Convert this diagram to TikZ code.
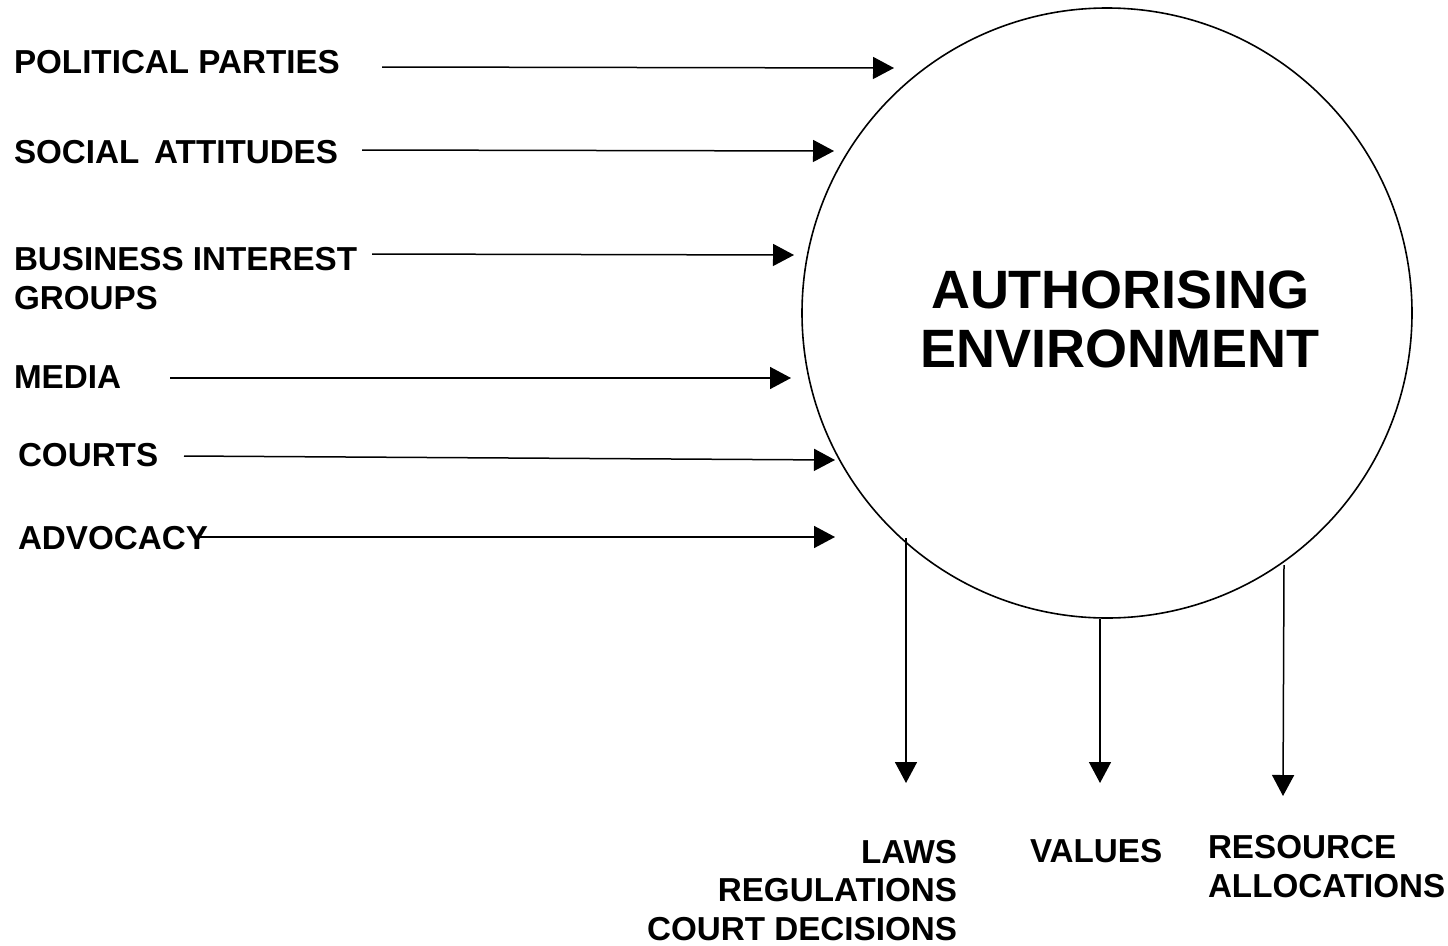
\documentclass[tikz,border=0pt]{standalone}
\usepackage{fontspec}
\setmainfont{Liberation Sans}
\usetikzlibrary{arrows.meta}
\begin{document}
\begin{tikzpicture}[x=1pt,y=-1pt,
  lbl/.style={font=\fontsize{33.2}{38.5}\selectfont\bfseries, inner sep=0pt, outer sep=0pt},
  big/.style={font=\fontsize{54}{59}\selectfont\bfseries, inner sep=0pt, outer sep=0pt, align=center},
  arr/.style={line width=1.5pt, -{Triangle[length=21pt,width=22pt]}},
  ring/.style={circle, draw, line width=1.6pt, minimum size=610pt, inner sep=0pt}
]
\useasboundingbox[fill=white] (0,0) rectangle (1448,945);
% circle
\node[ring] (env) at (1107,313) {};
\node[big, anchor=base] (title) at (1120,367) {AUTHORISING\\ENVIRONMENT};
% left labels
\node[lbl, anchor=base west] (pp) at (14,73) {POLITICAL PARTIES};
\node[lbl, anchor=base west] (sa) at (14,163) {SOCIAL\, ATTITUDES};
\node[lbl, anchor=base west, align=left] (bi) at (14,309) {BUSINESS INTEREST\\GROUPS};
\node[lbl, anchor=base west] (me) at (14,388) {MEDIA};
\node[lbl, anchor=base west] (co) at (18,466) {COURTS};
\node[lbl, anchor=base west] (ad) at (18,549) {ADVOCACY};
% bottom labels
\node[lbl, anchor=base east, align=right] (laws) at (957,940) {LAWS\\REGULATIONS\\COURT DECISIONS};
\node[lbl, anchor=base west] (val) at (1030,862) {VALUES};
\node[lbl, anchor=base west, align=left] (res) at (1208,897) {RESOURCE\\ALLOCATIONS};
% arrow coordinates
\coordinate (pp1) at (382,67);  \coordinate (pp2) at (894,68);
\coordinate (sa1) at (362,150); \coordinate (sa2) at (834,151);
\coordinate (bi1) at (372,254); \coordinate (bi2) at (794,255);
\coordinate (me1) at (170,378); \coordinate (me2) at (791,378);
\coordinate (co1) at (184,456); \coordinate (co2) at (835,460);
\coordinate (ad1) at (198,537); \coordinate (ad2) at (835,537);
\coordinate (lw1) at (906,538); \coordinate (lw2) at (906,783);
\coordinate (va1) at (1100,619); \coordinate (va2) at (1100,783);
\coordinate (rs1) at (1284,565); \coordinate (rs2) at (1283,796);
\draw[arr] (pp1) -- (pp2);
\draw[arr] (sa1) -- (sa2);
\draw[arr] (bi1) -- (bi2);
\draw[arr] (me1) -- (me2);
\draw[arr] (co1) -- (co2);
\draw[arr] (ad1) -- (ad2);
\draw[arr] (lw1) -- (lw2);
\draw[arr] (va1) -- (va2);
\draw[arr] (rs1) -- (rs2);
\end{tikzpicture}
\end{document}
